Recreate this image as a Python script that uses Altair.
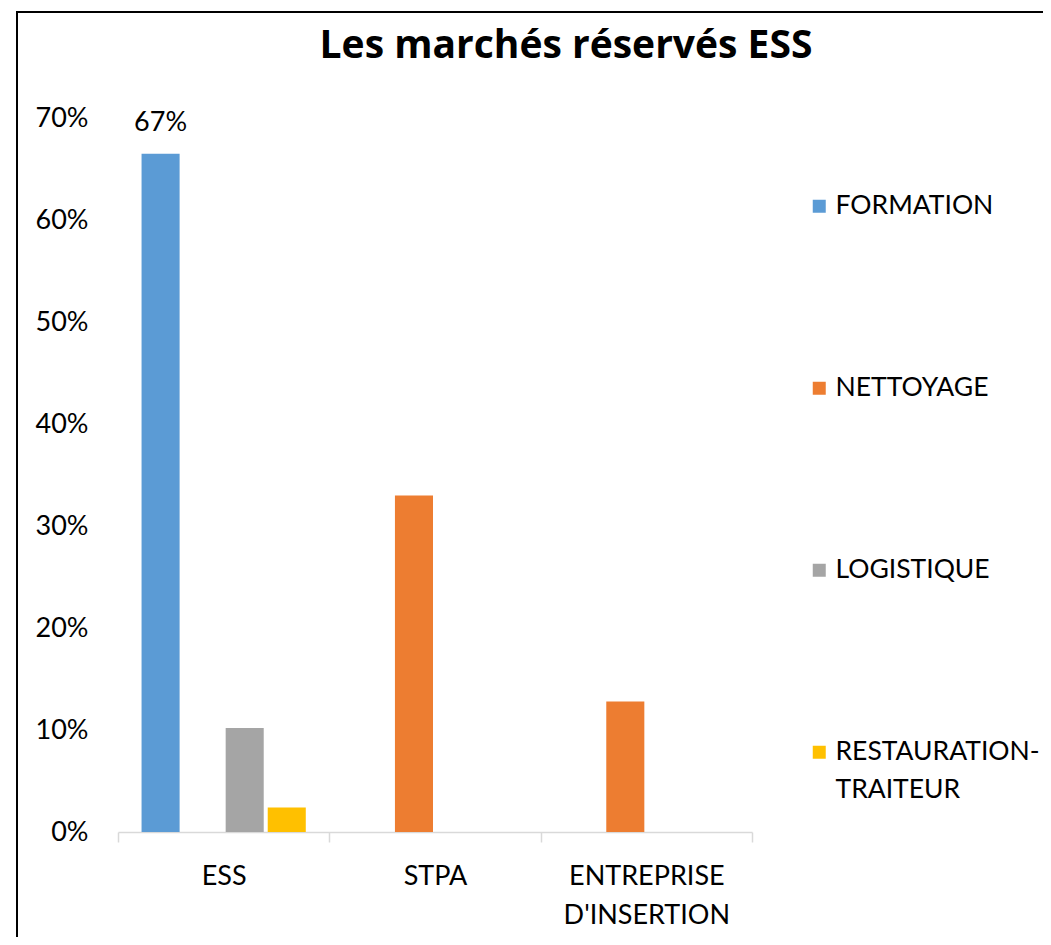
import altair as alt
import pandas as pd

categories = ["ESS", "STPA", "ENTREPRISE D'INSERTION"]
series = ["FORMATION", "NETTOYAGE", "LOGISTIQUE", "RESTAURATION-TRAITEUR"]
formation = [0.665, 0.0, 0.0]
nettoyage = [0.0, 0.33, 0.128]
logistique = [0.102, 0.0, 0.0]
restauration = [0.024, 0.0, 0.0]
colors = ["#5B9BD5", "#ED7D31", "#A5A5A5", "#FFC000"]
y_ticks = [0.0, 0.1, 0.2, 0.3, 0.4, 0.5, 0.6, 0.7]
labelled_series = "FORMATION"
labelled_category = "ESS"

rows = []
for s, vals in zip(series, [formation, nettoyage, logistique, restauration]):
    for c, v in zip(categories, vals):
        rows.append({"category": c, "series": s, "value": v})
df = pd.DataFrame(rows)

FONT = "Lato"

x_enc = alt.X(
    "category:N",
    sort=categories,
    scale=alt.Scale(domain=categories, paddingInner=0, paddingOuter=0),
    axis=alt.Axis(
        title=None,
        labelAngle=0,
        tickBand="extent",
        domainColor="#D9D9D9",
        domainWidth=1.5,
        tickColor="#D9D9D9",
        tickWidth=1.5,
        tickSize=10,
        labelFont=FONT,
        labelFontSize=27,
        labelColor="black",
        labelPadding=21,
        labelLineHeight=39,
        labelExpr="split(datum.label, ' ')",
    ),
)
xoff_enc = alt.XOffset(
    "series:N",
    sort=series,
    scale=alt.Scale(domain=series, paddingInner=0.095, paddingOuter=0.56),
)
y_enc = alt.Y(
    "value:Q",
    scale=alt.Scale(domain=[0, 0.7], nice=False),
    axis=alt.Axis(
        title=None,
        values=y_ticks,
        format=".0%",
        grid=False,
        ticks=False,
        domain=False,
        labelFont=FONT,
        labelFontSize=27,
        labelColor="black",
        labelPadding=30,
    ),
)

bars = alt.Chart(df).mark_bar().encode(
    x=x_enc,
    xOffset=xoff_enc,
    y=y_enc,
    color=alt.Color(
        "series:N",
        sort=series,
        scale=alt.Scale(domain=series, range=colors),
        legend=alt.Legend(
            title=None,
            orient="none",
            legendX=688,
            legendY=75,
            direction="vertical",
            symbolType="square",
            symbolSize=169,
            symbolStrokeWidth=0,
            labelFont=FONT,
            labelFontSize=26.5,
            labelColor="black",
            labelOffset=3,
            rowPadding=155,
            labelLimit=400,
            labelExpr="datum.label == 'RESTAURATION-TRAITEUR' ? ['RESTAURATION-', 'TRAITEUR'] : datum.label",
        ),
    ),
)

labels = (
    alt.Chart(df)
    .transform_filter(
        (alt.datum.series == labelled_series) & (alt.datum.category == labelled_category)
    )
    .mark_text(baseline="alphabetic", dy=-23, font=FONT, fontSize=27, color="black")
    .encode(x=x_enc, xOffset=xoff_enc, y=y_enc, text=alt.Text("value:Q", format=".0%"))
)

frame_df = pd.DataFrame({"k": [0]})
frame_left = alt.Chart(frame_df).mark_rule(color="black", strokeWidth=2).encode(
    x=alt.value(-101), y=alt.value(-106), y2=alt.value(830)
)
frame_top = alt.Chart(frame_df).mark_rule(color="black", strokeWidth=2).encode(
    x=alt.value(-102), x2=alt.value(940), y=alt.value(-106)
)

chart = (
    alt.layer(frame_left, frame_top, bars, labels)
    .properties(
        width=634,
        height=714,
        autosize=alt.AutoSizeParams(type="none"),
        padding={"left": 110, "top": 110, "right": 291, "bottom": 105},
        title=alt.TitleParams(
            "Les marchés réservés ESS",
            font="Open Sans",
            fontSize=39,
            fontWeight="bold",
            color="black",
            anchor="middle",
            frame="group",
            baseline="alphabetic",
            offset=0,
            dy=86,
            dx=131,
        ),
    )
    .configure(background="white", style={"guide-label": {"lineHeight": 38}})
    .configure_view(strokeWidth=0, stroke="transparent")
)

chart.save("out.html", embed_options={"renderer": "svg", "actions": False})
